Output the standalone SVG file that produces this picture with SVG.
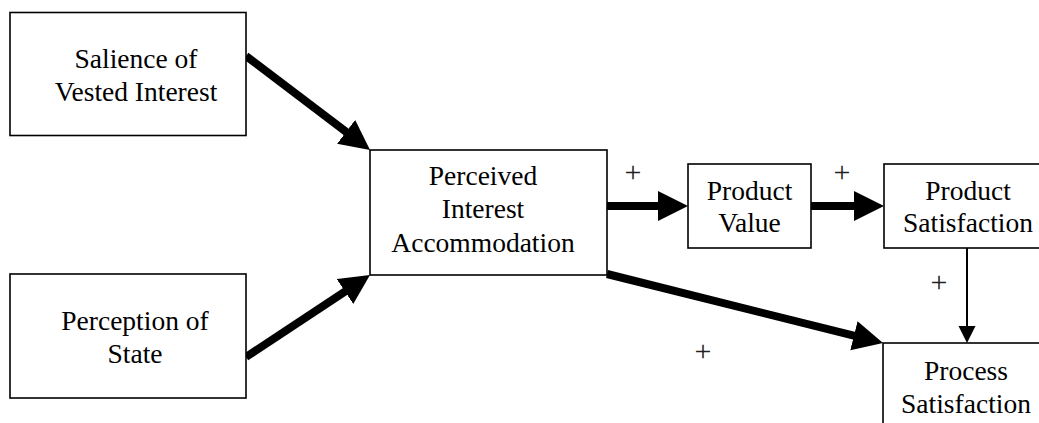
<svg xmlns="http://www.w3.org/2000/svg" width="1039" height="423" viewBox="0 0 1039 423">
<style>
.box{fill:#fff;stroke:#000;stroke-width:1.6}
.t{font-family:"Liberation Serif","Times New Roman",serif;font-size:27.5px;fill:#000;text-anchor:middle}
.p{font-family:"Liberation Serif","Times New Roman",serif;font-size:30px;fill:#222;text-anchor:middle}
.thick{stroke:#000;stroke-width:8;fill:none}
.thin{stroke:#000;stroke-width:2;fill:none}
</style>
<defs>
<marker id="big" markerUnits="userSpaceOnUse" markerWidth="32" markerHeight="32" refX="4" refY="15" orient="auto" viewBox="0 0 32 32">
<path d="M0,0 L30,15 L0,30 z" fill="#000"/>
</marker>
<marker id="small" markerUnits="userSpaceOnUse" markerWidth="18" markerHeight="18" refX="2" refY="8.5" orient="auto" viewBox="0 0 18 18">
<path d="M0,0 L17,8.5 L0,17 z" fill="#000"/>
</marker>
</defs>
<g id="connectors">
<line class="thick" x1="246" y1="56" x2="349.3" y2="134.3" marker-end="url(#big)"/>
<line class="thick" x1="246" y1="357" x2="348.3" y2="289.3" marker-end="url(#big)"/>
<line class="thick" x1="607" y1="206" x2="662" y2="206" marker-end="url(#big)"/>
<line class="thick" x1="811" y1="206" x2="858" y2="206" marker-end="url(#big)"/>
<line class="thick" x1="607" y1="274" x2="857.8" y2="336.7" marker-end="url(#big)"/>
<line class="thin" x1="967" y1="248" x2="967" y2="328" marker-end="url(#small)"/>
<text class="p" x="633" y="182">+</text>
<text class="p" x="842" y="182">+</text>
<text class="p" x="939" y="292">+</text>
<text class="p" x="703" y="361">+</text>
</g>
<g id="salience">
<rect class="box" x="10" y="12.5" width="236" height="123"/>
<text class="t" x="136" y="68">Salience of</text>
<text class="t" x="136" y="101">Vested Interest</text>
</g>
<g id="perception">
<rect class="box" x="10" y="274" width="236" height="124"/>
<text class="t" x="135" y="330">Perception of</text>
<text class="t" x="135" y="363">State</text>
</g>
<g id="pia">
<rect class="box" x="370" y="150" width="237" height="125"/>
<text class="t" x="483" y="185">Perceived</text>
<text class="t" x="483" y="218">Interest</text>
<text class="t" x="483" y="252">Accommodation</text>
</g>
<g id="productValue">
<rect class="box" x="688" y="164" width="123" height="84"/>
<text class="t" x="749.5" y="200">Product</text>
<text class="t" x="749.5" y="232">Value</text>
</g>
<g id="productSatisfaction">
<rect class="box" x="884" y="164" width="170" height="84"/>
<text class="t" x="968" y="200">Product</text>
<text class="t" x="968" y="232">Satisfaction</text>
</g>
<g id="processSatisfaction">
<rect class="box" x="883" y="343" width="170" height="100"/>
<text class="t" x="966" y="380">Process</text>
<text class="t" x="966" y="413">Satisfaction</text>
</g>
</svg>
